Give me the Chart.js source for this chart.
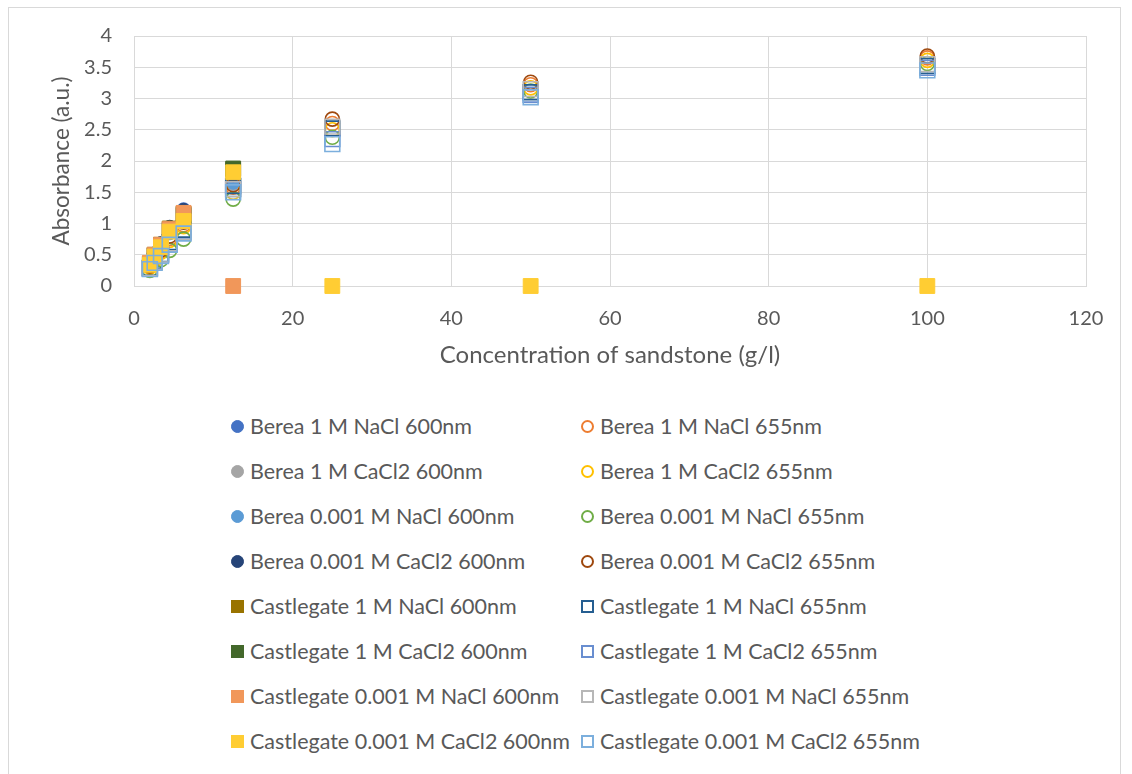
<!DOCTYPE html>
<html>
<head>
<meta charset="utf-8">
<script src="https://cdn.jsdelivr.net/npm/chart.js@4.4.0/dist/chart.umd.min.js"></script>
<style>
  html, body { margin: 0; padding: 0; background: #fff; }
  #wrap { position: relative; width: 1132px; height: 774px; overflow: hidden; font-family: Lato, "Open Sans", sans-serif; }
  #frame { position: absolute; left: 8px; top: 7px; width: 1113px; height: 790px; border: 1px solid #d9d9d9; box-sizing: border-box; }
  #chart { position: absolute; left: 0; top: 0; }
  .item { position: absolute; height: 26px; line-height: 26px; font-size: 21.5px; color: #595959; white-space: nowrap; }
  .mk { position: absolute; box-sizing: border-box; width: 13px; height: 13px; top: 6.5px; left: -6.5px; }
</style>
</head>
<body>
<div id="wrap">
  <div id="frame"></div>
  <canvas id="chart" width="1132" height="400"></canvas>
  <div id="legend"></div>
</div>
<script>
// concentrations (g/l)
var concLow = [2, 2.6, 3.4, 4.5, 6.25, 12.5];
var concAll = [2, 2.6, 3.4, 4.5, 6.25, 12.5, 25, 50, 100];

// Berea, 600nm (filled circles) / 655nm (open circles)
var berea1NaCl600 = [0.37, 0.50, 0.67, 0.92, 1.22, 1.64];
var berea1NaCl655 = [0.31, 0.43, 0.56, 0.76, 0.98, 1.58, 2.60, 3.22, 3.65];
var berea1CaCl2600 = [0.35, 0.48, 0.64, 0.88, 1.16, 1.63];
var berea1CaCl2655 = [0.30, 0.41, 0.54, 0.73, 0.95, 1.50, 2.50, 3.17, 3.61];
var bereaLowNaCl600 = [0.33, 0.46, 0.61, 0.85, 1.12, 1.66];
var bereaLowNaCl655 = [0.25, 0.35, 0.42, 0.57, 0.75, 1.39, 2.38, 3.12, 3.56];
var bereaLowCaCl2600 = [0.38, 0.51, 0.68, 0.94, 1.21, 1.78];
var bereaLowCaCl2655 = [0.32, 0.45, 0.58, 0.80, 1.02, 1.62, 2.67, 3.26, 3.68];

// Castlegate, 600nm (filled squares) / 655nm (open squares)
var cg1NaCl600 = [0.36, 0.50, 0.66, 0.92, 1.16, 1.86];
var cg1NaCl655 = [0.29, 0.40, 0.51, 0.70, 0.90, 1.60, 2.52, 3.10, 3.52];
var cg1CaCl2600 = [0.35, 0.49, 0.65, 0.90, 1.14, 1.88];
var cg1CaCl2655 = [0.28, 0.39, 0.50, 0.68, 0.87, 1.55, 2.35, 3.06, 3.49];
var cgLowNaCl600 = [0.37, 0.50, 0.66, 0.91, 1.17, 0];
var cgLowNaCl655 = [0.28, 0.38, 0.50, 0.68, 0.86, 1.55, 2.55, 3.15, 3.55];
var cgLowCaCl2600 = [0.34, 0.47, 0.62, 0.87, 1.04, 1.82, 0, 0, 0];
var cgLowCaCl2655 = [0.27, 0.37, 0.48, 0.66, 0.84, 1.50, 2.27, 3.02, 3.45];

var seriesNames = [
  'Berea 1 M NaCl 600nm', 'Berea 1 M NaCl 655nm',
  'Berea 1 M CaCl2 600nm', 'Berea 1 M CaCl2 655nm',
  'Berea 0.001 M NaCl 600nm', 'Berea 0.001 M NaCl 655nm',
  'Berea 0.001 M CaCl2 600nm', 'Berea 0.001 M CaCl2 655nm',
  'Castlegate 1 M NaCl 600nm', 'Castlegate 1 M NaCl 655nm',
  'Castlegate 1 M CaCl2 600nm', 'Castlegate 1 M CaCl2 655nm',
  'Castlegate 0.001 M NaCl 600nm', 'Castlegate 0.001 M NaCl 655nm',
  'Castlegate 0.001 M CaCl2 600nm', 'Castlegate 0.001 M CaCl2 655nm'
];
var seriesY = [
  berea1NaCl600, berea1NaCl655, berea1CaCl2600, berea1CaCl2655,
  bereaLowNaCl600, bereaLowNaCl655, bereaLowCaCl2600, bereaLowCaCl2655,
  cg1NaCl600, cg1NaCl655, cg1CaCl2600, cg1CaCl2655,
  cgLowNaCl600, cgLowNaCl655, cgLowCaCl2600, cgLowCaCl2655
];
var seriesColors = [
  '#4472C4', '#ED7D31', '#A5A5A5', '#FFC000',
  '#5B9BD5', '#70AD47', '#264478', '#9E480E',
  '#997300', '#255E91', '#43682B', '#698ED0',
  '#F1975A', '#B7B7B7', '#FFCD33', '#7CAFDD'
];

var textColor = '#595959';
var gridColor = '#d9d9d9';

var datasets = seriesNames.map(function(name, i) {
  var ys = seriesY[i];
  var xs = ys.length === concAll.length ? concAll : concLow;
  var filled = i % 2 === 0;
  var square = i >= 8;
  return {
    label: name,
    data: ys.map(function(v, k) { return { x: xs[k], y: v }; }),
    pointStyle: square ? 'rect' : 'circle',
    pointRadius: square ? 10.5 : 7,
    borderColor: seriesColors[i],
    backgroundColor: filled ? seriesColors[i] : 'rgba(0,0,0,0)',
    borderWidth: filled ? 1 : 1.6,
    showLine: false,
    clip: false,
    order: seriesNames.length - i   // later series on top, like the original
  };
});

new Chart(document.getElementById('chart'), {
  type: 'scatter',
  data: { datasets: datasets },
  options: {
    responsive: false,
    animation: false,
    layout: { padding: { left: 44, top: 36, right: 46, bottom: 26 } },
    plugins: { legend: { display: false }, tooltip: { enabled: false } },
    scales: {
      x: {
        type: 'linear', min: 0, max: 120,
        ticks: { stepSize: 20, color: textColor, font: { family: 'Lato', size: 20 }, padding: 21 },
        grid: { color: gridColor, drawTicks: false },
        border: { color: gridColor },
        title: { display: true, text: 'Concentration of sandstone (g/l)', color: textColor,
                 font: { family: 'Lato', size: 24 }, padding: { top: 4, bottom: 4 } },
        afterFit: function(s) { s.height = 88; }
      },
      y: {
        min: 0, max: 4,
        ticks: { stepSize: 0.5, color: textColor, font: { family: 'Lato', size: 20 }, padding: 22,
                 callback: function(v) { return String(Number(v)); } },
        grid: { color: gridColor, drawTicks: false },
        border: { color: gridColor },
        title: { display: true, text: 'Absorbance (a.u.)', color: textColor,
                 font: { family: 'Lato', size: 22.5 }, padding: { top: 4, bottom: 4 } },
        afterFit: function(s) { s.width = 90; }
      }
    }
  }
});

// legend in two columns, like the original
(function() {
  var el = document.getElementById('legend');
  var colX = [237, 587];
  var rowY0 = 426, rowStep = 45;
  el.innerHTML = datasets.map(function(d, i) {
    var col = i % 2, row = Math.floor(i / 2);
    var c = seriesColors[i];
    var filled = i % 2 === 0;
    var mk = 'border:' + (filled ? '1px' : '2px') + ' solid ' + c + ';background:' + (filled ? c : '#fff') + ';' +
      (i < 8 ? 'border-radius:50%;' : '');
    return '<div class="item" style="left:' + colX[col] + 'px;top:' + (rowY0 + row * rowStep - 13) + 'px;">' +
      '<span class="mk" style="' + mk + '"></span>' +
      '<span style="position:absolute;left:13px;">' + d.label + '</span></div>';
  }).join('');
})();
</script>
</body>
</html>
